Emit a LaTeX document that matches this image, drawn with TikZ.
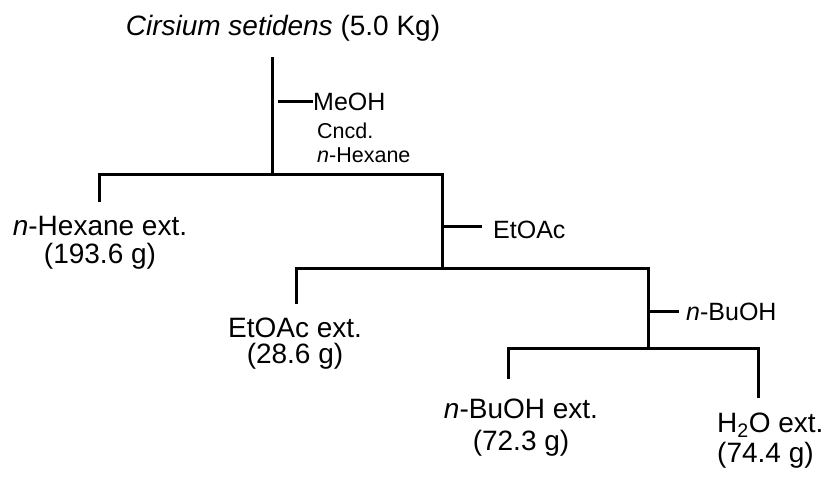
\documentclass[tikz,border=0pt]{standalone}
\usepackage{fontspec}
\setmainfont{Liberation Sans}
\tikzset{
  bar/.style={line width=3pt},
  bigtext/.style={font=\fontsize{28}{26}\selectfont, align=center, inner sep=0pt},
  solvent/.style={font=\fontsize{25}{27}\selectfont, inner sep=0pt, anchor=base west},
  smalltext/.style={font=\fontsize{21.5}{24}\selectfont, align=left, inner sep=0pt, anchor=base west},
}
\begin{document}
\begin{tikzpicture}[x=1pt,y=-1pt]
    \useasboundingbox (0,0) rectangle (827,483);
    % Plant
    \node[bigtext,anchor=base] (plant) at (283,35) {\textit{Cirsium setidens} (5.0 Kg)};
    \coordinate (s0) at (272,57);
    \coordinate (j1) at (272,174);
    \draw[bar] (s0) -- (j1);
    \coordinate (t1) at (278,101);
    \node[solvent] (meoh) at (313,110) {MeOH};
    \draw[bar] (t1) -- (t1 -| meoh.west);
    \node[smalltext] (cncd) at (317,162) {Cncd.\\\textit{n}-Hexane};
    % First split
    \coordinate (l1) at (99,174);
    \coordinate (l1e) at (99,202);
    \coordinate (r1) at (442,174);
    \coordinate (j2) at (442,268);
    \draw[bar] (l1e) -- (l1) -- (r1) -- (j2);
    \node[bigtext,anchor=base] (hexext) at (100,263) {\textit{n}-Hexane ext.\\[2pt](193.6 g)};
    \coordinate (t2) at (442,226);
    \node[solvent] (etoac) at (493,238) {EtOAc};
    \draw[bar] (t2) -- ++(40,0) coordinate (t2e);
    % Second split
    \coordinate (l2) at (296,268);
    \coordinate (l2e) at (296,304);
    \coordinate (r2) at (648,268);
    \coordinate (j3) at (648,348);
    \draw[bar] (l2e) -- (l2) -- (r2) -- (j3);
    \node[bigtext,anchor=base] (etext) at (295,363) {EtOAc ext.\\(28.6 g)};
    \coordinate (t3) at (648,311);
    \node[solvent] (buoh) at (686,320) {\textit{n}-BuOH};
    \draw[bar] (t3) -- ++(31,0) coordinate (t3e);
    % Third split
    \coordinate (l3) at (508,348);
    \coordinate (l3e) at (508,379);
    \coordinate (r3) at (758,348);
    \coordinate (r3e) at (758,398);
    \draw[bar] (l3e) -- (l3) -- (r3) -- (r3e);
    \node[bigtext,anchor=base] (buext) at (521,450) {\textit{n}-BuOH ext.\\[6pt](72.3 g)};
    \node[bigtext,align=left,anchor=base west] (h2oext) at (717,462) {H\textsubscript{2}O ext.\\[4pt](74.4 g)};
\end{tikzpicture}
\end{document}
